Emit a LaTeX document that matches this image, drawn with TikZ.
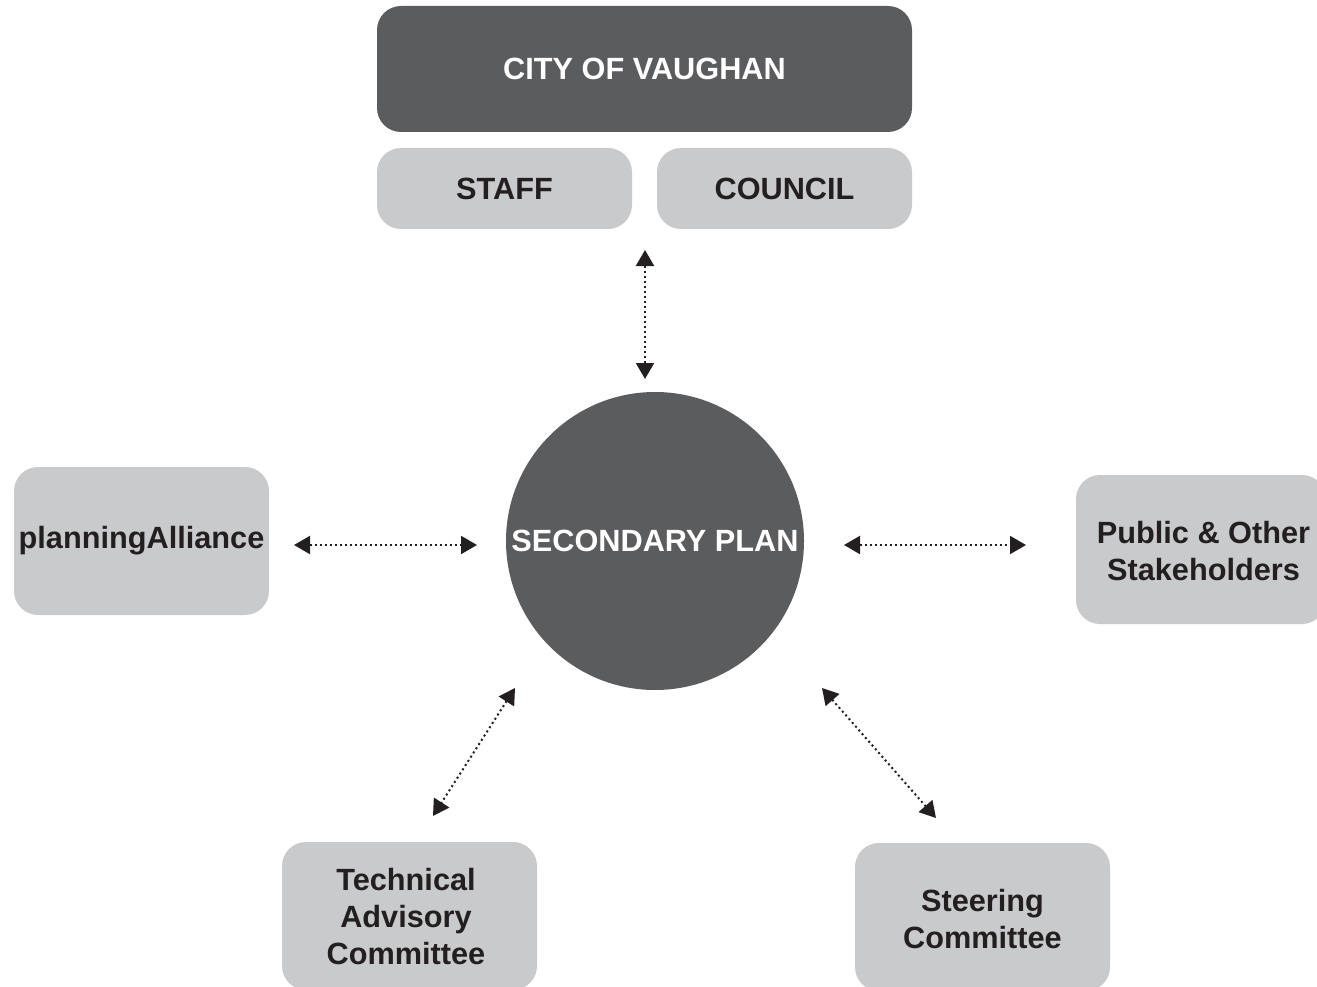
\documentclass[tikz,border=0pt]{standalone}
\usepackage{fontspec}
\setmainfont{Liberation Sans}
\usetikzlibrary{arrows.meta}
\definecolor{darkbox}{HTML}{5B5C5E}
\definecolor{lightbox}{HTML}{C9CACC}
\definecolor{ink}{HTML}{231F20}
\begin{document}
\begin{tikzpicture}[x=1pt,y=-1pt,
  txt/.style={font=\fontsize{30.7}{37}\selectfont\bfseries, align=center},
  darkrect/.style={fill=darkbox, rounded corners=24pt, inner sep=0pt, text=white, txt},
  lightrect/.style={fill=lightbox, rounded corners=24pt, inner sep=0pt, text=ink, txt},
  conn/.style={ink, line width=2pt, dash pattern=on 2pt off 3pt,
     {Triangle[width=18pt,length=16pt]}-{Triangle[width=18pt,length=16pt]}}]
\useasboundingbox (0,0) rectangle (1317,987);
\clip (0,0) rectangle (1317,987);
% top boxes
\node[darkrect, minimum width=535pt, minimum height=126pt] (city) at (644.5,69) {CITY OF VAUGHAN};
\node[lightrect, minimum width=255pt, minimum height=81pt] (staff) at (504.5,188.5) {STAFF};
\node[lightrect, minimum width=255pt, minimum height=81pt] (council) at (784.5,188.5) {COUNCIL};
% centre
\node[circle, fill=darkbox, minimum size=298pt, inner sep=0pt, text=white, txt] (plan) at (655,541) {SECONDARY PLAN};
% side boxes
\node[lightrect, minimum width=255pt, minimum height=148pt] (pa) at (141.5,541) {planningAlliance};
\node[lightrect, minimum width=250pt, minimum height=149pt] (pub) at (1201,549.5) {};
\node[txt, text=ink] (pubtxt) at (1203.5,551) {Public \& Other\\Stakeholders};
\node[lightrect, minimum width=255pt, minimum height=148pt] (tac) at (409.5,916) {};
\node[txt, text=ink] (tactxt) at (406,917) {Technical\\Advisory\\Committee};
\node[lightrect, minimum width=255pt, minimum height=148pt] (sc) at (982.5,917) {};
\node[txt, text=ink] (sctxt) at (982.5,919) {Steering\\Committee};
% connector end points
\coordinate (t1) at (645,250);
\coordinate (t2) at (645,379);
\coordinate (l1) at (294,545);
\coordinate (l2) at (477,545);
\coordinate (r1) at (844,545);
\coordinate (r2) at (1026,545);
\coordinate (bl1) at (515,688);
\coordinate (bl2) at (433,816);
\coordinate (br1) at (822,688);
\coordinate (br2) at (936,818);
\draw[conn] (t1) -- (t2);
\draw[conn] (l1) -- (l2);
\draw[conn] (r1) -- (r2);
\draw[conn] (bl1) -- (bl2);
\draw[conn] (br1) -- (br2);
\end{tikzpicture}
\end{document}
